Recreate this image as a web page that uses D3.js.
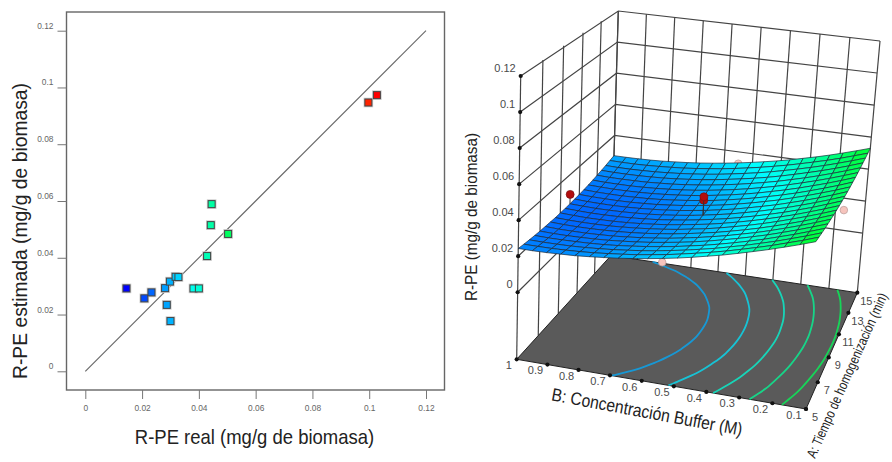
<!DOCTYPE html>
<html>
<head>
<meta charset="utf-8">
<script src="https://cdnjs.cloudflare.com/ajax/libs/d3/7.8.5/d3.min.js"></script>
<style>
  html, body { margin: 0; padding: 0; background: #fff; overflow: hidden; }
  text { font-family: "Liberation Sans", Arial, sans-serif; }
</style>
</head>
<body>
<svg id="chart" width="892" height="462"></svg>
<script>
// left panel: real vs estimated
var realVals = [0.0145, 0.0208, 0.0233, 0.0281, 0.0298, 0.0287, 0.0300, 0.0318, 0.0328, 0.0381, 0.0400, 0.0429, 0.0503, 0.0442, 0.0445, 0.0997, 0.1027]
var estVals  = [0.0292, 0.0257, 0.0278, 0.0293, 0.0316, 0.0234, 0.0177, 0.0333, 0.0332, 0.0292, 0.0292, 0.0406, 0.0484, 0.0515, 0.0589, 0.0947, 0.0973]
var ticks2d = [0, 0.02, 0.04, 0.06, 0.08, 0.1, 0.12]

// right panel: axes
var zTicks = [0, 0.02, 0.04, 0.06, 0.08, 0.1, 0.12]
var bTicks = [1, 0.9, 0.8, 0.7, 0.6, 0.5, 0.4, 0.3, 0.2, 0.1]
var aTicks = [5, 7, 9, 11, 13, 15]
var contourLevels = [0.0275, 0.0325, 0.038, 0.0435, 0.049]

// design points [A, B, R-PE]
var pointsBelow = [[15, 0.55, 0.0325], [10, 0.1, 0.0415], [5, 0.55, 0.0293]]
var pointsAbove = [[10, 1, 0.0275], [10, 0.55, 0.0355], [10, 0.55, 0.0375]]

// response surface, R-PE x 10000
// one row per A (5 to 15 in steps of 0.5), one column per B (1 to 0.1 in steps of 0.045)
var surfaceRows = [
  [243,243,245,249,253,260,268,277,288,300,314,329,346,365,384,406,429,453,479,506,535],
  [237,237,238,241,245,251,259,268,278,291,304,320,337,355,375,397,420,444,471,498,528],
  [232,231,232,234,238,244,251,260,270,282,296,311,328,346,367,388,412,436,463,491,521],
  [228,226,227,229,232,237,244,253,263,275,288,304,320,339,359,381,404,430,456,485,515],
  [224,222,222,224,227,232,239,247,257,269,282,297,314,333,353,375,398,424,451,480,510],
  [222,219,219,220,223,227,234,242,252,263,277,292,309,327,348,369,393,419,446,475,506],
  [220,217,216,217,220,224,230,238,248,259,273,288,304,323,343,365,389,415,442,471,502],
  [218,215,214,215,217,222,228,236,245,256,270,284,301,320,340,362,386,412,439,468,499],
  [218,215,213,214,216,220,226,234,243,255,268,282,299,318,338,360,384,409,437,466,497],
  [218,215,213,214,216,220,226,233,243,254,267,282,298,317,337,359,382,408,435,465,496],
  [219,216,214,215,217,221,226,234,243,254,267,282,298,317,337,359,382,408,435,464,495],
  [221,217,216,216,218,222,228,235,244,256,268,283,299,318,338,359,383,408,435,464,495],
  [223,220,219,219,221,225,230,238,247,258,271,285,302,320,340,361,385,410,437,465,496],
  [226,223,222,222,225,228,234,242,251,262,274,289,305,323,343,364,387,412,439,467,498],
  [230,228,226,227,229,233,239,246,255,266,279,293,309,327,347,368,391,416,442,470,500],
  [235,232,232,232,235,239,245,252,261,272,285,299,315,333,352,373,396,420,446,474,503],
  [241,238,238,239,241,246,251,259,268,279,292,306,322,339,358,379,401,425,451,478,507],
  [247,245,245,246,249,253,259,267,276,287,300,314,329,346,365,386,408,431,456,483,512],
  [254,252,252,254,257,262,268,276,285,296,309,323,338,355,374,394,415,438,463,489,517],
  [262,261,261,263,267,272,278,286,296,306,319,333,348,365,383,403,424,446,470,496,523],
  [270,270,271,273,277,283,289,297,307,318,330,344,359,375,393,413,433,455,479,504,530]
]
var surface = surfaceRows.map(r => r.map(v => v/10000))
var nNodes = surface.length

var svg = d3.select('#chart')

var color = d3.scaleLinear()
  .domain([0.0145, 0.0366, 0.0586, 0.0807, 0.1027])
  .range(['#0000ff', '#00ffff', '#00ff00', '#ffff00', '#ff0000'])

function drawScatter(){
  var x = d3.scaleLinear().domain([0, 0.12]).range([85.3, 426])
  var y = d3.scaleLinear().domain([0, 0.12]).range([371.3, 30.7])
  var g = svg.append('g')

  g.append('rect')
    .attr('x', 66.5).attr('y', 12).attr('width', 378).attr('height', 378)
    .attr('fill', 'none').attr('stroke', '#666').attr('stroke-width', 1.4)

  var xAxis = g.append('g').attr('transform', 'translate(0,390)')
    .call(d3.axisBottom(x).tickValues(ticks2d).tickFormat(d => d).tickSize(9).tickPadding(6))
  var yAxis = g.append('g').attr('transform', 'translate(66.5,0)')
    .call(d3.axisLeft(y).tickValues(ticks2d).tickFormat(d => d).tickSize(9).tickPadding(4))
  ;[xAxis, yAxis].forEach(a => {
    a.select('.domain').remove()
    a.selectAll('line').attr('stroke', '#777')
    a.selectAll('text').attr('fill', '#666').style('font-size', '8.4px')
  })
  yAxis.selectAll('text').attr('dy', '-0.3em')

  g.append('line')
    .attr('x1', x(0)).attr('y1', y(0)).attr('x2', x(0.12)).attr('y2', y(0.12))
    .attr('stroke', '#666').attr('stroke-width', 1.1)

  // pale halo under each marker
  g.selectAll('rect.halo').data(realVals).enter().append('rect')
    .attr('class', 'halo')
    .attr('x', d => x(d) - 3.5)
    .attr('y', (d, i) => y(estVals[i]) - 3.5)
    .attr('width', 7).attr('height', 7)
    .attr('fill', 'none').attr('stroke', '#ccc').attr('stroke-width', 2.6)
  g.selectAll('rect.pt').data(realVals).enter().append('rect')
    .attr('class', 'pt')
    .attr('x', d => x(d) - 3.5)
    .attr('y', (d, i) => y(estVals[i]) - 3.5)
    .attr('width', 7).attr('height', 7)
    .attr('fill', d => color(d))
    .attr('stroke', '#444').attr('stroke-width', 1)

  g.append('text').text('R-PE real (mg/g de biomasa)')
    .attr('transform', 'translate(254.5,444) scale(0.925,1)').attr('text-anchor', 'middle')
    .attr('fill', '#222').style('font-size', '20px')
  g.append('text').text('R-PE estimada (mg/g de biomasa)')
    .attr('transform', 'translate(27,231) rotate(-90) scale(0.92,1)').attr('text-anchor', 'middle')
    .attr('fill', '#222').style('font-size', '21px')
}

// floor corners, order: (B=1,A=5) (B=0.1,A=5) (B=0.1,A=15) (B=1,A=15)
var floorQuad = [[516.7, 359.3], [806, 409], [857.3, 292.7], [611, 255.5]]
// how far each floor corner moves on the way up to the top of the box
var liftQuad = [[4, -283.3], [17, -290], [22.7, -251.7], [7.3, -244.5]]
var zFloor = -0.0372, zTop = 0.12

var homog = (function(q){
  var dx1 = q[1][0] - q[2][0], dx2 = q[3][0] - q[2][0], sx = q[0][0] - q[1][0] + q[2][0] - q[3][0]
  var dy1 = q[1][1] - q[2][1], dy2 = q[3][1] - q[2][1], sy = q[0][1] - q[1][1] + q[2][1] - q[3][1]
  var den = dx1*dy2 - dx2*dy1
  var g = (sx*dy2 - dx2*sy)/den, h = (dx1*sy - sx*dy1)/den
  return {
    g, h,
    a: q[1][0] - q[0][0] + g*q[1][0], b: q[3][0] - q[0][0] + h*q[3][0], c: q[0][0],
    d: q[1][1] - q[0][1] + g*q[1][1], e: q[3][1] - q[0][1] + h*q[3][1], f: q[0][1]
  }
})(floorQuad)

var uScale = d3.scaleLinear().domain([1, 0.1]).range([0, 1])
var vScale = d3.scaleLinear().domain([5, 15]).range([0, 1])
var tScale = d3.scaleLinear().domain([zFloor, zTop]).range([0, 1])

function project(a, b, z){
  var u = uScale(b), v = vScale(a), t = tScale(z)
  var w = homog.g*u + homog.h*v + 1
  var px = (homog.a*u + homog.b*v + homog.c)/w
  var py = (homog.d*u + homog.e*v + homog.f)/w
  var lift = [0, 1].map(k => (1-u)*(1-v)*liftQuad[0][k] + u*(1-v)*liftQuad[1][k] + u*v*liftQuad[2][k] + (1-u)*v*liftQuad[3][k])
  return [px + t*lift[0], py + t*lift[1]]
}

var line3d = d3.line()

function drawSurface(){
  var g = svg.append('g')
  var gridColor = '#444'
  var wall = g.append('g').attr('fill', 'none').attr('stroke', gridColor).attr('stroke-width', 1.2)

  // B = 1 wall and A = 15 wall
  zTicks.forEach(z => {
    wall.append('path').attr('d', line3d([project(5, 1, z), project(15, 1, z), project(15, 0.1, z)]))
  })
  aTicks.forEach(a => {
    wall.append('path').attr('d', line3d([project(a, 1, zFloor), project(a, 1, zTop)]))
  })
  bTicks.forEach(b => {
    wall.append('path').attr('d', line3d([project(15, b, zFloor), project(15, b, zTop)]))
  })

  // floor
  g.append('path')
    .attr('d', line3d([project(5, 1, zFloor), project(5, 0.1, zFloor), project(15, 0.1, zFloor), project(15, 1, zFloor)]) + 'Z')
    .attr('fill', '#5a5a5a').attr('stroke', '#222').attr('stroke-width', 1)

  // contours on the floor
  var flat = d3.merge(surface)
  var contours = d3.contours().size([nNodes, nNodes]).smooth(true).thresholds(contourLevels)(flat)
  var inside = p => p[0] >= 0.5 && p[0] <= nNodes - 0.5 && p[1] >= 0.5 && p[1] <= nNodes - 0.5
  var toFloor = p => project(5 + (p[1] - 0.5)/2, 1 - (p[0] - 0.5)*0.045, zFloor)
  var contourLine = d3.line().defined(inside).x(p => toFloor(p)[0]).y(p => toFloor(p)[1]).curve(d3.curveBasis)
  contours.forEach(c => {
    c.coordinates.forEach(poly => poly.forEach(ring => {
      var start = ring.findIndex(p => !inside(p))
      var rolled = start < 0 ? ring : ring.slice(start).concat(ring.slice(0, start))
      g.append('path').attr('d', contourLine(rolled))
        .attr('fill', 'none').attr('stroke', color(c.value + 0.002)).attr('stroke-opacity', 0.75).attr('stroke-width', 1.8)
    }))
  })

  // z axis dots, B and A tick dots
  var dots = zTicks.map(z => project(5, 1, z))
    .concat(bTicks.map(b => project(5, b, zFloor)))
    .concat(aTicks.map(a => project(a, 0.1, zFloor)))
  g.selectAll('circle.tick').data(dots).enter().append('circle')
    .attr('class', 'tick')
    .attr('cx', d => d[0]).attr('cy', d => d[1]).attr('r', 2.1).attr('fill', '#111')

  var tickText = (s, p, dx, dy, anchor) => g.append('text').text(s)
    .attr('x', p[0] + dx).attr('y', p[1] + dy).attr('text-anchor', anchor).attr('dy', '0.35em')
    .attr('fill', '#4a4a4a').style('font-size', '11px')
  zTicks.forEach(z => tickText(z, project(5, 1, z), -5, -8, 'end'))
  bTicks.forEach(b => tickText(b, project(5, b, zFloor), b == 1 ? -8 : -12, 6, 'middle'))
  aTicks.forEach(a => tickText(a, project(a, 0.1, zFloor), 9, 8, 'middle'))

  // points under the surface
  g.selectAll('circle.below').data(pointsBelow).enter().append('circle')
    .attr('class', 'below')
    .attr('cx', d => project(d[0], d[1], d[2])[0]).attr('cy', d => project(d[0], d[1], d[2])[1])
    .attr('r', 3.8).attr('fill', '#f6c4bd').attr('stroke', '#b79a96').attr('stroke-width', 0.7)

  // mesh, back rows first
  var cells = []
  d3.range(nNodes - 2, -1, -1).forEach(j => d3.range(nNodes - 1).forEach(i => cells.push([j, i])))
  var node = (j, i) => project(5 + j/2, 1 - i*0.045, surface[j][i])
  g.selectAll('path.cell').data(cells).enter().append('path')
    .attr('class', 'cell')
    .attr('d', d => line3d([node(d[0], d[1]), node(d[0], d[1] + 1), node(d[0] + 1, d[1] + 1), node(d[0] + 1, d[1])]) + 'Z')
    .attr('fill', d => color((surface[d[0]][d[1]] + surface[d[0]+1][d[1]+1])/2 + 0.002))
    .attr('stroke', '#1c2a3a').attr('stroke-width', 0.7)

  // points over the surface, each with a stem down to the mesh
  pointsAbove.forEach(d => {
    var p = project(d[0], d[1], d[2])
    var s = project(d[0], d[1], surface[Math.round((d[0] - 5)*2)][Math.round((1 - d[1])/0.045)])
    g.append('line').attr('x1', p[0]).attr('y1', p[1]).attr('x2', s[0]).attr('y2', s[1]).attr('stroke', '#333')
    g.append('circle').attr('cx', p[0]).attr('cy', p[1]).attr('r', 4)
      .attr('fill', '#b30d0d').attr('stroke', '#7a1010').attr('stroke-width', 0.7)
  })

  g.append('text').text('R-PE (mg/g de biomasa)')
    .attr('transform', 'translate(477,217) rotate(-90) scale(0.9,1)').attr('text-anchor', 'middle')
    .attr('fill', '#222').style('font-size', '17px')
  g.append('text').text('B: Concentración Buffer (M)')
    .attr('transform', 'translate(646,418) rotate(10.5) scale(0.87,1)').attr('text-anchor', 'middle')
    .attr('fill', '#222').style('font-size', '18px')
  g.append('text').text('A: Tiempo de homogenización (min)')
    .attr('transform', 'translate(815,459) rotate(-66) scale(0.8,1)')
    .attr('fill', '#222').style('font-size', '14px')
}

drawScatter()
drawSurface()
</script>
</body>
</html>
